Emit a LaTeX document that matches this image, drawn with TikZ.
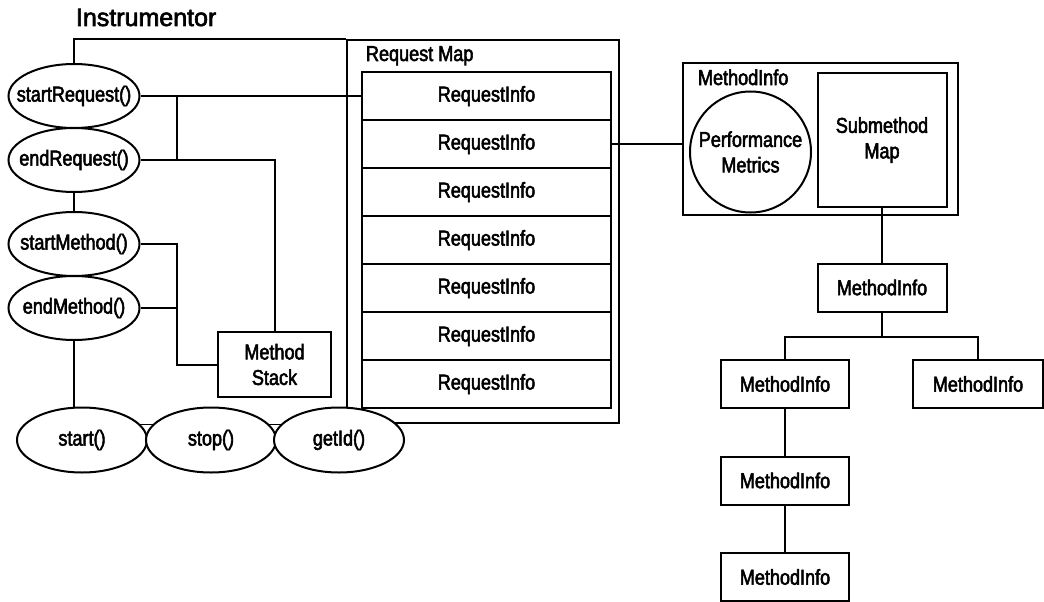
\documentclass[tikz,border=0pt]{standalone}
\usepackage{fontspec}
\setmainfont{Liberation Sans}[FakeStretch=0.84, FakeBold=2.5]
\newfontfamily\headfont{Liberation Sans}[FakeBold=2.5]
\usetikzlibrary{shapes.geometric,backgrounds}

\begin{document}
\begin{tikzpicture}[x=1pt, y=-1pt, line width=2pt,
        font=\fontsize{21.5}{25.5}\selectfont,
        call/.style={ellipse, draw, fill=white, inner ysep=0pt, inner xsep=-25pt, minimum width=131pt, minimum height=64pt},
        box/.style={rectangle, draw, fill=white, inner sep=0pt, align=center},
        info/.style={box, minimum width=129pt, minimum height=48pt},
        label/.style={anchor=base west, inner sep=0pt}]
    \useasboundingbox (0,0) rectangle (1044,602);
    \node[label, font=\fontsize{25}{30}\selectfont\headfont] (instr) at (75,26) {Instrumentor};
    % instrumentor calls
    \node[call] (startRequest) at (74,96) {startRequest()};
    \node[call] (endRequest) at (74,160) {endRequest()};
    \node[call] (startMethod) at (74,244) {startMethod()};
    \node[call] (endMethod) at (74,308) {endMethod()};
    \node[box, minimum width=113pt, minimum height=65pt] (mstack) at (274.5,364.5) {Method\\Stack};
    % request map
    \node[draw, minimum width=272pt, minimum height=383pt, inner sep=0pt] (reqmap) at (483,231.5) {};
    \node[label] (reqlabel) at (365,61) {Request Map};
    \foreach \i in {1,...,7}
        \node[info, minimum width=249pt] (ri\i) at (486.5,48+48*\i) {RequestInfo};
    \node[call, minimum width=130pt, minimum height=65pt] (start) at (82,440) {start()};
    \node[call, minimum width=130pt, minimum height=65pt] (stop) at (211,440) {stop()};
    \node[call, minimum width=130pt, minimum height=65pt] (getid) at (339,440) {getId()};
    \begin{scope}[on background layer]
        \draw (start.center |- reqmap.south) -- (reqmap.south west);
    \end{scope}
    \draw (startRequest.north) |- (reqmap.north west);
    \draw (endRequest.south) -- (startMethod.north);
    \draw (endMethod.south) -- (endMethod.south |- start.north);
    \coordinate (mjoin) at ([xshift=-40pt]mstack.west);
    \draw (startRequest.east) -- (ri1.west);
    \draw (startRequest.east -| mjoin) -- (endRequest.east -| mjoin);
    \draw (endRequest.east) -| (mstack.north);
    \draw (startMethod.east) -| (mjoin) -- (mstack.west);
    \draw (endMethod.east) -- (endMethod.east -| mjoin);
    % method info
    \node[box, minimum width=275pt, minimum height=152pt] (minfo) at (820.5,139) {};
    \node[label] (minfolabel) at (697,85) {MethodInfo};
    \node[circle, draw, inner sep=0pt, minimum size=121pt, align=center] (perf) at (750.5,152) {Performance\\Metrics};
    \node[box, minimum width=129pt, minimum height=134pt] (submap) at (882,140) {Submethod\\Map};
    \draw (ri2.east) -- (ri2.east -| minfo.west);
    \node[info] (mi1) at (882,287.5) {MethodInfo};
    \node[info, minimum width=128pt] (mi2) at (785,384) {MethodInfo};
    \node[info, minimum width=130pt] (mi3) at (978,384) {MethodInfo};
    \node[info, minimum width=128pt] (mi4) at (785,480.5) {MethodInfo};
    \node[info, minimum width=128pt] (mi5) at (785,577) {MethodInfo};
    \draw (submap.south) -- (mi1.north);
    \draw (mi1.south) -- ++(0,24) coordinate (fork) (fork) -| (mi2.north) (fork) -| (mi3.north);
    \draw (mi2.south) -- (mi4.north);
    \draw (mi4.south) -- (mi5.north);
\end{tikzpicture}
\end{document}
